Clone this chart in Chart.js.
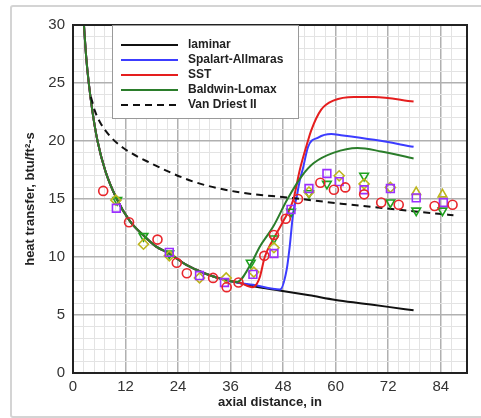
<!DOCTYPE html>
<html lang="en">
<head>
  <meta charset="UTF-8">
  <title>Heat transfer vs axial distance</title>
  <script src="https://cdn.jsdelivr.net/npm/chart.js"></script>
  <style>
    body {
      margin: 0;
      background: #ffffff;
      overflow: hidden;
    }
    #wrap {
      position: relative;
      width: 481px;
      height: 418px;
    }
    #frame {
      position: absolute;
      left: 10px;
      top: 5px;
      width: 490px;
      height: 409px;
      border: 2px solid #d4d4d4;
      border-radius: 3px;
    }
    canvas {
      position: absolute;
      left: 0;
      top: 0;
    }
  </style>
</head>
<body>
  <div id="wrap">
    <div id="frame"></div>
    <canvas id="heatChart" width="481" height="418"></canvas>
  </div>

  <script>
    // computed curves (x in inches, heat transfer in btu/ft^2-s)
    const laminarX = [2.5, 3.0, 3.6, 4.5, 5.6, 7.4, 10, 13, 16, 19, 22, 26, 30, 34.5, 37.5, 41, 47.5, 54, 60, 66, 72, 77.8];
    const laminarY = [30, 27.3, 25, 22.4, 20, 17.4, 15, 13.1, 11.9, 10.9, 10.3, 9.3, 8.6, 8.05, 7.8, 7.5, 7.1, 6.7, 6.3, 6.0, 5.7, 5.4];

    const saX = [2.5, 3.0, 3.6, 4.5, 5.6, 7.4, 10, 13, 16, 19, 22, 26, 30, 34.5, 37.5, 41.1, 47.3, 48.8, 49.5, 50.3, 51.1, 51.8, 52.5, 53.7, 56, 59, 61.2, 68.8, 77.8];
    const saY = [30, 27.3, 25, 22.4, 20, 17.4, 15, 13.1, 11.9, 10.9, 10.3, 9.3, 8.6, 8.05, 7.8, 7.6, 7.2, 8.9, 10.9, 13.8, 15.2, 16.6, 17.6, 19.5, 20.3, 20.6, 20.5, 20.1, 19.5];

    const sstX = [2.5, 3.0, 3.6, 4.5, 5.6, 7.4, 10, 13, 16, 19, 22, 26, 30, 34.5, 38, 41, 42, 42.7, 43.8, 45.7, 47.9, 50.3, 51.8, 53.5, 54.4, 56.7, 59.6, 64.2, 68.8, 77.8];
    const sstY = [30, 27.3, 25, 22.4, 20, 17.4, 15, 13.1, 11.9, 10.9, 10.3, 9.3, 8.6, 8.05, 7.8, 7.4, 7.7, 8.3, 10.0, 11.5, 13.0, 14.9, 17.5, 19.8, 20.9, 22.7, 23.5, 23.8, 23.8, 23.4];

    const blX = [2.5, 3.0, 3.6, 4.5, 5.6, 7.4, 10, 13, 16, 19, 22, 26, 30, 34.5, 37.5, 40.5, 42.7, 45.7, 49, 52.3, 55, 59.6, 65, 70.4, 77.8];
    const blY = [30, 27.3, 25, 22.4, 20, 17.4, 15, 13.1, 11.9, 10.9, 10.3, 9.3, 8.6, 8.05, 7.85, 9.3, 10.9, 12.6, 15.0, 17.0, 18.1, 19.0, 19.4, 19.1, 18.5];

    const vdX = [4.1, 5.0, 6.2, 8.5, 11.5, 17.7, 27.5, 37.6, 49.8, 61.2, 71.1, 78.9, 86.9];
    const vdY = [23.8, 22.6, 21.6, 20.4, 19.4, 18.1, 16.5, 15.6, 15.1, 14.6, 14.2, 13.9, 13.6];

    // measured data
    const circleX = [6.9, 12.8, 19.3, 23.7, 26.0, 32.0, 35.1, 37.8, 43.7, 45.9, 48.6, 51.4, 56.5, 59.6, 62.2, 66.5, 70.4, 74.4, 82.6, 86.7];
    const circleY = [15.7, 13.0, 11.5, 9.5, 8.6, 8.2, 7.4, 7.8, 10.1, 11.9, 13.3, 15.0, 16.4, 15.8, 16.0, 15.4, 14.7, 14.5, 14.4, 14.5];

    const squareX = [9.9, 22.0, 28.9, 34.6, 41.1, 45.9, 49.8, 53.9, 58.0, 60.8, 66.5, 72.5, 78.4, 84.6];
    const squareY = [14.2, 10.4, 8.4, 7.8, 8.5, 10.3, 14.1, 15.9, 17.2, 16.5, 15.8, 15.9, 15.1, 14.7];

    const diamondX = [9.8, 16.1, 22.0, 28.9, 35.0, 41.3, 45.9, 53.9, 60.8, 66.5, 72.5];
    const diamondY = [14.9, 11.1, 10.1, 8.2, 8.2, 8.7, 10.8, 15.6, 17.0, 16.3, 16.0];

    const upTriX = [78.4, 84.4];
    const upTriY = [15.6, 15.4];

    const downTriX = [10.1, 16.1, 22.0, 40.6, 45.9, 49.8, 53.9, 58.0, 66.5, 72.5, 78.4, 84.4];
    const downTriY = [14.9, 11.8, 10.3, 9.5, 11.6, 13.9, 15.5, 16.3, 17.0, 14.7, 14.0, 14.0];

    const legendNames = ['laminar', 'Spalart-Allmaras', 'SST', 'Baldwin-Lomax', 'Van Driest II'];

    const pts = (xs, ys) => xs.map((x, i) => ({ x: x, y: ys[i] }));

    function curve(label, xs, ys, color, order, dash) {
      return {
        label: label,
        data: pts(xs, ys),
        order: order,
        showLine: true,
        borderColor: color,
        borderWidth: 2,
        borderDash: dash || [],
        pointRadius: 0,
        cubicInterpolationMode: 'monotone',
        fill: false
      };
    }

    function marks(label, xs, ys, color, style, radius, rotation) {
      return {
        label: label,
        data: pts(xs, ys),
        order: 0,
        showLine: false,
        pointStyle: style,
        pointRadius: radius,
        pointRotation: rotation || 0,
        pointBorderColor: color,
        pointBackgroundColor: 'rgba(0,0,0,0)',
        pointBorderWidth: 1.6,
        borderColor: color
      };
    }

    const isMajorX = v => Math.abs(v / 12 - Math.round(v / 12)) < 1e-6;
    const isMajorY = v => Math.abs(v / 5 - Math.round(v / 5)) < 1e-6;

    // frame round the plot + legend box inside it
    const framePlugin = {
      id: 'framePlugin',
      afterDraw(chart) {
        const c = chart.ctx;
        const a = chart.chartArea;
        c.save();
        c.strokeStyle = '#222';
        c.lineWidth = 2;
        c.strokeRect(a.left, a.top, a.right - a.left, a.bottom - a.top);

        const bx = 112, by = a.top, bw = 186, bh = 93;
        c.fillStyle = '#ffffff';
        c.fillRect(bx, by, bw, bh);
        c.strokeStyle = '#999';
        c.lineWidth = 1;
        c.strokeRect(bx + 0.5, by + 0.5, bw, bh);

        c.font = 'bold 12px "Liberation Sans", Arial, sans-serif';
        c.textBaseline = 'middle';
        legendNames.forEach((name, i) => {
          const ds = chart.data.datasets[i];
          const y = 45 + i * 15;
          c.beginPath();
          c.strokeStyle = ds.borderColor;
          c.lineWidth = 2;
          c.setLineDash(ds.borderDash);
          c.moveTo(121, y);
          c.lineTo(178, y);
          c.stroke();
          c.setLineDash([]);
          c.fillStyle = '#222';
          c.fillText(name, 188, y);
        });
        c.restore();
      }
    };

    const ctx = document.getElementById('heatChart').getContext('2d');

    new Chart(ctx, {
      type: 'scatter',
      data: {
        datasets: [
          curve('laminar', laminarX, laminarY, '#111111', 5),
          curve('Spalart-Allmaras', saX, saY, '#3c3cff', 4),
          curve('SST', sstX, sstY, '#e51e1e', 3),
          curve('Baldwin-Lomax', blX, blY, '#2b7d2b', 2),
          curve('Van Driest II', vdX, vdY, '#111111', 1, [7, 5]),
          marks('exp. circles', circleX, circleY, '#e8262c', 'circle', 4.5),
          marks('exp. squares', squareX, squareY, '#9b30ff', 'rect', 5.5),
          marks('exp. diamonds', diamondX, diamondY, '#bdb51c', 'rectRot', 5),
          marks('exp. triangles', upTriX, upTriY, '#bdb51c', 'triangle', 5),
          marks('exp. inverted triangles', downTriX, downTriY, '#1fa21f', 'triangle', 5, 180)
        ]
      },
      options: {
        responsive: false,
        animation: false,
        devicePixelRatio: 1,
        layout: { padding: { left: 0, top: 25, right: 14, bottom: 0 } },
        plugins: {
          legend: { display: false },
          tooltip: { enabled: false }
        },
        scales: {
          x: {
            type: 'linear',
            min: 0,
            max: 90,
            afterFit: s => { s.height = 45; },
            ticks: {
              stepSize: 2.4,
              autoSkip: false,
              maxRotation: 0,
              padding: 5,
              color: '#333',
              font: { family: '"Liberation Sans", Arial, sans-serif', size: 15 },
              callback: v => isMajorX(v) ? String(Math.round(v)) : ''
            },
            grid: {
              drawTicks: false,
              color: c => isMajorX(c.tick.value) ? '#b0b0b0' : '#e3e3e3',
              lineWidth: c => isMajorX(c.tick.value) ? 1.5 : 1
            },
            border: { color: '#222', width: 2 },
            title: {
              display: true,
              text: 'axial distance, in',
              color: '#222',
              padding: 8,
              font: { family: '"Liberation Sans", Arial, sans-serif', size: 13, weight: 'bold' }
            }
          },
          y: {
            type: 'linear',
            min: 0,
            max: 30,
            afterFit: s => { s.width = 73; },
            ticks: {
              stepSize: 1,
              autoSkip: false,
              padding: 8,
              color: '#333',
              font: { family: '"Liberation Sans", Arial, sans-serif', size: 15 },
              callback: v => isMajorY(v) ? String(Math.round(v)) : ''
            },
            grid: {
              drawTicks: false,
              color: c => isMajorY(c.tick.value) ? '#b0b0b0' : '#e3e3e3',
              lineWidth: c => isMajorY(c.tick.value) ? 1.5 : 1
            },
            border: { color: '#222', width: 2 },
            title: {
              display: true,
              text: 'heat transfer, btu/ft²-s',
              color: '#222',
              padding: 23,
              font: { family: '"Liberation Sans", Arial, sans-serif', size: 13, weight: 'bold' }
            }
          }
        }
      },
      plugins: [framePlugin]
    });
  </script>
</body>
</html>
